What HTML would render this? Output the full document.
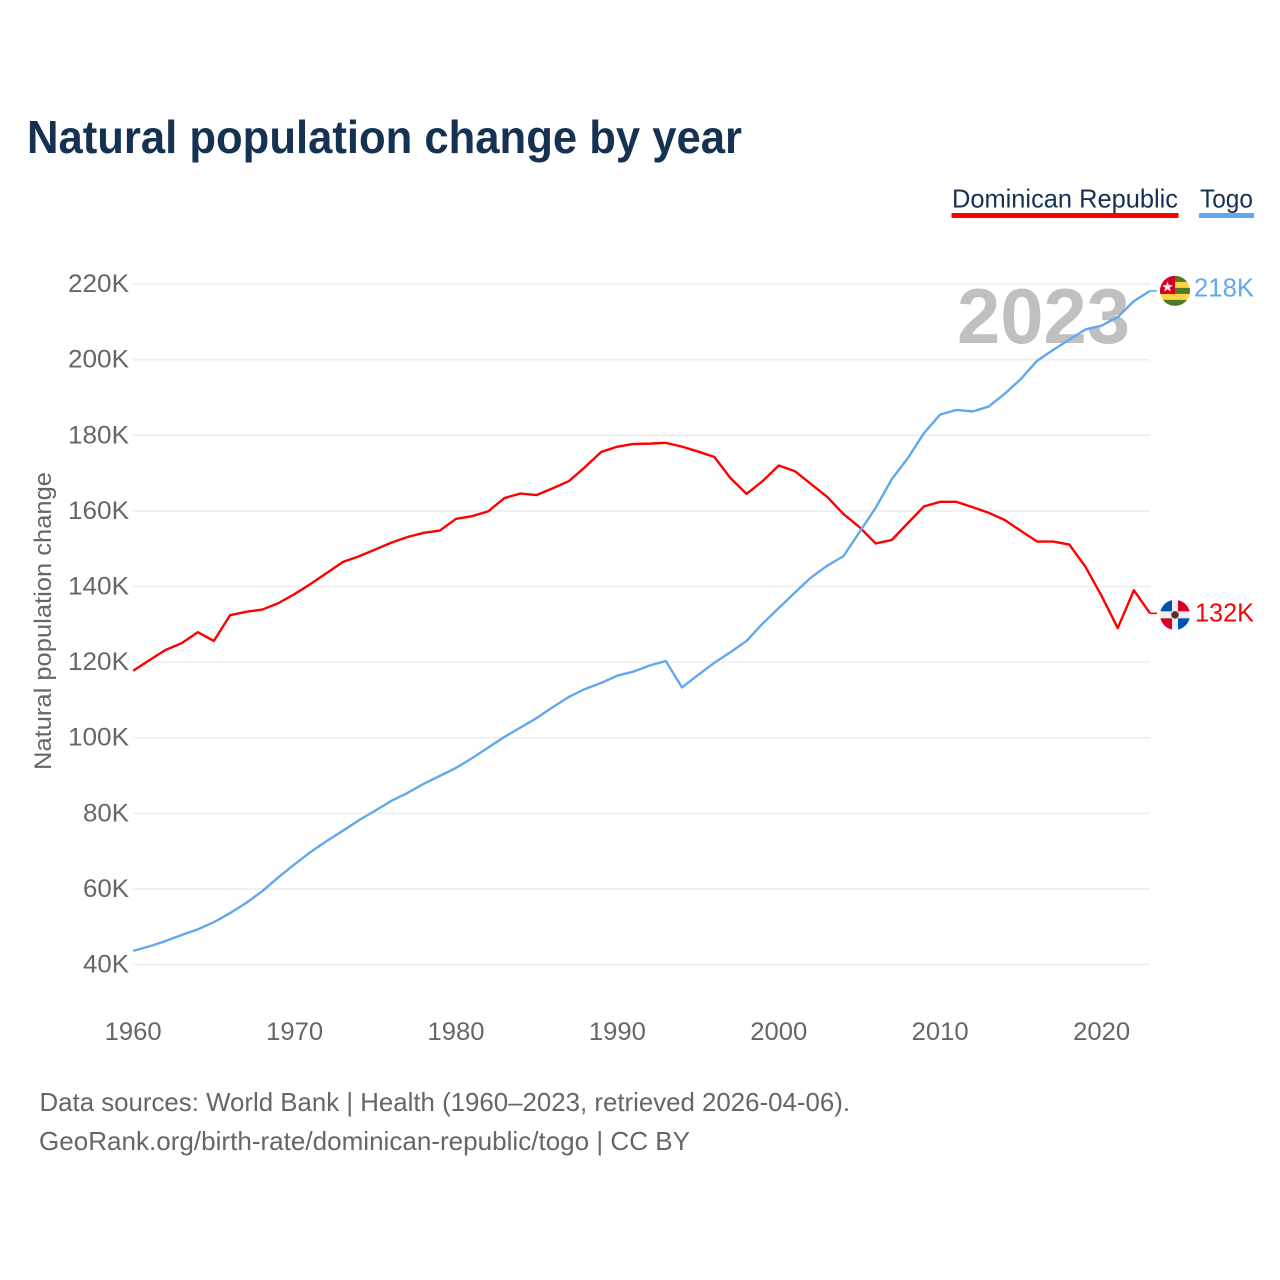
<!DOCTYPE html>
<html lang="en">
<head>
<meta charset="utf-8">
<title>Natural population change by year</title>
<style>
  html, body { margin: 0; padding: 0; background: #fff; }
  svg { display: block; font-family: "Liberation Sans", sans-serif; }
</style>
</head>
<body>
<svg id="chart" xmlns="http://www.w3.org/2000/svg" width="1280" height="1280" viewBox="0 0 1280 1280">
  <defs>
    <clipPath id="flag-clip"><circle cx="0" cy="0" r="15"></circle></clipPath>
  </defs>
  <rect width="1280" height="1280" fill="#ffffff"></rect>
  <text x="27" y="153" font-size="46" font-weight="700" fill="#163253" textLength="715" lengthAdjust="spacingAndGlyphs">Natural population change by year</text>

  <g>
    <text x="952" y="207.5" font-size="26" fill="#163253" textLength="226" lengthAdjust="spacingAndGlyphs">Dominican Republic</text>
    <rect x="951.5" y="213" width="227" height="5" fill="#ff0000"></rect>
  </g>
  <g>
    <text x="1200" y="207.5" font-size="26" fill="#163253" textLength="53" lengthAdjust="spacingAndGlyphs">Togo</text>
    <rect x="1199" y="213" width="55" height="5" fill="#62a8ee"></rect>
  </g>

  <g id="grid"></g>
  <g id="y-axis"></g>
  <g id="x-axis"></g>
  <text transform="translate(51 621) rotate(-90)" text-anchor="middle" font-size="24" fill="#666666" textLength="298" lengthAdjust="spacingAndGlyphs">Natural population change</text>
  <text id="year-label" x="1130" y="343" text-anchor="end" font-size="78" font-weight="700" fill="#c0c0c0" textLength="173" lengthAdjust="spacingAndGlyphs"></text>
  <g id="series"></g>

  <g id="flag-togo">
    <g clip-path="url(#flag-clip)">
      <rect x="-15" y="-15" width="30" height="30" fill="#ffd23f"></rect>
      <rect x="-15" y="-15" width="30" height="6" fill="#4f7a28"></rect>
      <rect x="-15" y="-3" width="30" height="6" fill="#4f7a28"></rect>
      <rect x="-15" y="9" width="30" height="6" fill="#4f7a28"></rect>
      <rect x="-15" y="-15" width="15" height="18" fill="#d80027"></rect>
      <polygon points="-7.5,-9.5 -6.1,-5.7 -2.2,-5.7 -5.3,-3.2 -4.2,0.6 -7.5,-1.6 -10.8,0.6 -9.7,-3.2 -12.8,-5.7 -8.9,-5.7" fill="#f0f0f0"></polygon>
    </g>
  </g>
  <g id="flag-dr">
    <g clip-path="url(#flag-clip)">
      <rect x="-15" y="-15" width="30" height="30" fill="#f0f0f0"></rect>
      <rect x="-15" y="-15" width="12" height="11.5" fill="#0052b4"></rect>
      <rect x="3" y="-15" width="12" height="11.5" fill="#d80027"></rect>
      <rect x="-15" y="3.5" width="12" height="11.5" fill="#d80027"></rect>
      <rect x="3" y="3.5" width="12" height="11.5" fill="#0052b4"></rect>
      <circle cx="0" cy="0" r="3.4" fill="#6b1d3a" stroke="#3e6b3a" stroke-width="1"></circle>
    </g>
  </g>
  <g id="end-labels"></g>

  <text x="39.5" y="1111" font-size="26" fill="#666666" textLength="810.5" lengthAdjust="spacingAndGlyphs">Data sources: World Bank | Health (1960–2023, retrieved 2026-04-06).</text>
  <text x="39" y="1150" font-size="26" fill="#666666" textLength="651" lengthAdjust="spacingAndGlyphs">GeoRank.org/birth-rate/dominican-republic/togo | CC BY</text>
</svg>
<script>
const years = [1960,1961,1962,1963,1964,1965,1966,1967,1968,1969,1970,1971,1972,1973,1974,1975,1976,1977,1978,1979,1980,1981,1982,1983,1984,1985,1986,1987,1988,1989,1990,1991,1992,1993,1994,1995,1996,1997,1998,1999,2000,2001,2002,2003,2004,2005,2006,2007,2008,2009,2010,2011,2012,2013,2014,2015,2016,2017,2018,2019,2020,2021,2022,2023];
const dominicanRepublic = [117.7,120.5,123.2,125,127.9,125.6,132.4,133.3,133.9,135.6,138,140.7,143.6,146.5,148,149.8,151.6,153.1,154.2,154.8,157.9,158.6,159.9,163.4,164.6,164.2,166,167.9,171.6,175.6,177,177.7,177.8,178,177,175.7,174.3,168.7,164.5,167.9,172,170.5,167.1,163.7,159.2,155.7,151.4,152.3,156.8,161.2,162.4,162.4,161,159.5,157.6,154.7,151.9,151.9,151.1,145.2,137.5,129,139,132.9];
const togo = [43.6,44.8,46.2,47.8,49.3,51.2,53.6,56.3,59.4,63.1,66.5,69.8,72.7,75.4,78.2,80.7,83.3,85.4,87.8,89.9,92,94.6,97.4,100.2,102.7,105.2,108.1,110.8,112.9,114.5,116.4,117.5,119.1,120.3,113.3,116.6,119.8,122.6,125.6,130.2,134.3,138.4,142.4,145.5,148,154.4,160.8,168.4,174,180.6,185.5,186.7,186.3,187.6,191,194.9,199.7,202.6,205.3,208,209,211.3,215.5,218.2];
const yTicks = [40,60,80,100,120,140,160,180,200,220];
const xTicks = [1960,1970,1980,1990,2000,2010,2020];

const NS = 'http://www.w3.org/2000/svg';
const xScale = function (year) { return 133.2 + (year - 1960) * 16.14; };
const yScale = function (value) { return 964.5 - (value - 40) * 3.78; };

function make(tag, parent, attrs, content) {
  const el = document.createElementNS(NS, tag);
  Object.keys(attrs).forEach(function (k) { el.setAttribute(k, attrs[k]); });
  if (content !== undefined) el.textContent = content;
  parent.appendChild(el);
  return el;
}

const gridGroup = document.getElementById('grid');
const yAxisGroup = document.getElementById('y-axis');
const xAxisGroup = document.getElementById('x-axis');
const seriesGroup = document.getElementById('series');
const endLabelGroup = document.getElementById('end-labels');
const lastYear = years[years.length - 1];

yTicks.forEach(function (t) {
  const line = make('line', gridGroup, { x1: 133, x2: xScale(lastYear), y1: yScale(t), y2: yScale(t), stroke: '#eeeeee', 'stroke-width': 1.6 });
  
  
  const label = String(t) + 'K';
  const tick = make('text', yAxisGroup, { x: 129, y: yScale(t) + 8, 'text-anchor': 'end', 'font-size': 25, fill: '#666666', textLength: label.length === 4 ? 61 : 46, lengthAdjust: 'spacingAndGlyphs' }, label);
  
  
});

xTicks.forEach(function (t) {
  const tick = make('text', xAxisGroup, { x: xScale(t), y: 1040, 'text-anchor': 'middle', 'font-size': 25, fill: '#666666', textLength: 57, lengthAdjust: 'spacingAndGlyphs' }, String(t));
  
  
});

document.getElementById('year-label').textContent = String(lastYear);

function linePath(values) {
  return values.map(function (v, i) {
    return (i ? 'L' : 'M') + xScale(years[i]).toFixed(2) + ' ' + yScale(v).toFixed(2);
  }).join(' ');
}

const redLine = make('path', seriesGroup, { d: linePath(dominicanRepublic), fill: 'none', stroke: '#ff0000', 'stroke-width': 2.4, 'stroke-linejoin': 'round' });


const blueLine = make('path', seriesGroup, { d: linePath(togo), fill: 'none', stroke: '#62a8ee', 'stroke-width': 2.4, 'stroke-linejoin': 'round' });



const redLast = dominicanRepublic[dominicanRepublic.length - 1];
const blueLast = togo[togo.length - 1];

const redTail = make('line', seriesGroup, { x1: xScale(lastYear), x2: 1157, y1: yScale(redLast), y2: yScale(redLast), stroke: '#ff0000', 'stroke-width': 1.6 });


const blueTail = make('line', seriesGroup, { x1: xScale(lastYear), x2: 1157, y1: yScale(blueLast), y2: yScale(blueLast), stroke: '#62a8ee', 'stroke-width': 1.6 });



document.getElementById('flag-togo').setAttribute('transform', 'translate(1175 ' + yScale(blueLast) + ')');
document.getElementById('flag-dr').setAttribute('transform', 'translate(1175 ' + (yScale(redLast) + 1.5) + ')');

const blueValue = make('text', endLabelGroup, { x: 1194, y: yScale(blueLast) + 5.5, 'font-size': 26, fill: '#62a8ee', textLength: 60, lengthAdjust: 'spacingAndGlyphs' }, Math.floor(blueLast) + 'K');


const redValue = make('text', endLabelGroup, { x: 1195, y: yScale(redLast) + 8, 'font-size': 26, fill: '#ff0000', textLength: 59, lengthAdjust: 'spacingAndGlyphs' }, Math.floor(redLast) + 'K');


</script>
</body>
</html>
